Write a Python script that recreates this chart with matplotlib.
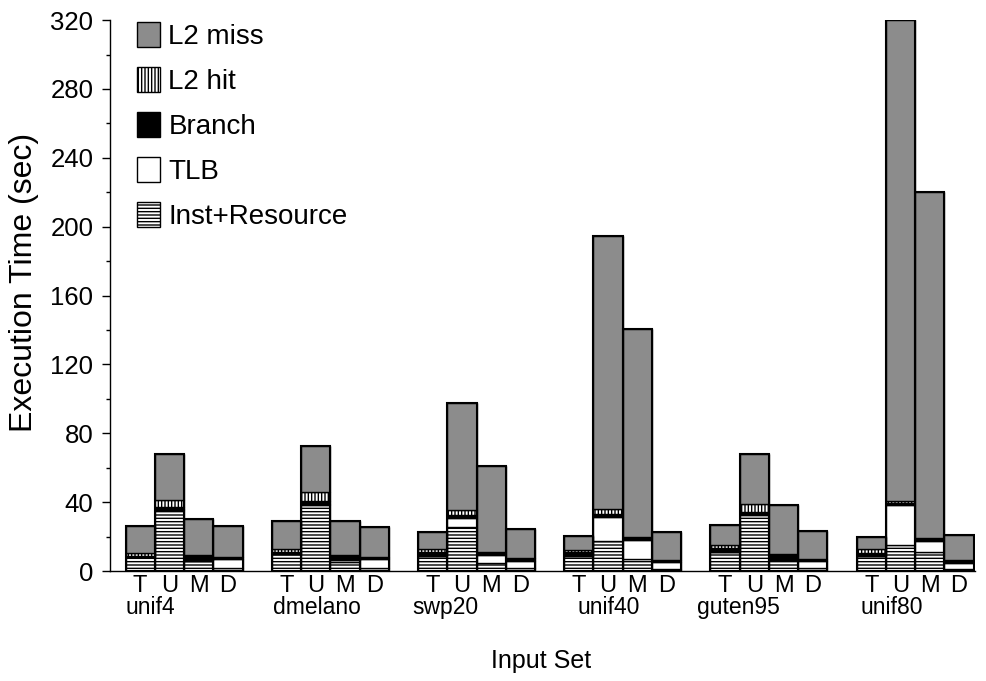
import numpy as np
import matplotlib.pyplot as plt
import matplotlib.transforms as mtransforms
from matplotlib.patches import Patch

plt.rcParams['font.family'] = ['Liberation Sans', 'DejaVu Sans']
plt.rcParams['hatch.linewidth'] = 1.0

# input sets, each run with four variants
groups = ['unif4', 'dmelano', 'swp20', 'unif40', 'guten95', 'unif80']
variants = ['T', 'U', 'M', 'D']

# execution time breakdown (sec), one list per component, order: group by group, T U M D
inst_resource = [8.0, 35.5, 6.0, 2.0,
                 9.7, 38.5, 5.5, 2.0,
                 8.5, 25.5, 4.7, 2.0,
                 8.7, 17.3, 6.8, 1.3,
                 11.0, 32.5, 6.5, 2.0,
                 8.7, 15.0, 10.8, 1.0]
tlb = [0.3, 0.3, 0.5, 5.0,
       0.3, 0.3, 0.8, 4.8,
       0.3, 5.3, 4.8, 4.0,
       0.3, 14.2, 11.2, 3.7,
       0.2, 0.5, 0.7, 3.6,
       0.2, 23.5, 6.6, 3.8]
branch = [0.7, 1.2, 2.3, 1.0,
          1.0, 1.6, 2.5, 1.0,
          2.5, 1.5, 1.5, 1.3,
          2.0, 1.5, 1.5, 1.3,
          2.3, 1.5, 2.5, 1.3,
          1.7, 0.8, 1.7, 1.2]
l2_hit = [1.5, 4.5, 0.7, 0.2,
          1.5, 5.5, 0.5, 0.2,
          1.2, 3.3, 0.3, 0.2,
          1.2, 2.8, 0.2, 0.2,
          1.8, 4.5, 0.3, 0.2,
          2.0, 1.5, 0.2, 0.2]
l2_miss = [15.5, 26.5, 20.5, 18.0,
           16.7, 26.9, 19.7, 17.5,
           10.3, 61.8, 49.9, 16.7,
           8.1, 158.7, 120.8, 16.3,
           11.2, 29.0, 28.5, 16.3,
           7.4, 279.2, 200.7, 14.7]

# where each group name sits, relative to its first bar
group_label_offset = [0.34, 1.05, 0.43, 1.03, 0.44, 0.71]

fig = plt.figure(figsize=(9.87, 6.81), dpi=100)
ax = fig.add_axes([0.1115, 0.1615, 0.8765, 0.809])

x = np.array([g * 5 + i for g in range(len(groups)) for i in range(len(variants))], dtype=float)

# stacked from the bottom: style for each component
layers = [
    ('Inst+Resource', inst_resource, dict(color='white', hatch='-----')),
    ('TLB', tlb, dict(color='white', hatch=None)),
    ('Branch', branch, dict(color='black', hatch=None)),
    ('L2 hit', l2_hit, dict(color='white', hatch='|||||')),
    ('L2 miss', l2_miss, dict(color='#8c8c8c', hatch=None)),
]

bottom = np.zeros(len(x))
handles = []
for name, vals, st in layers:
    vals = np.array(vals)
    ax.bar(x, vals, width=1.0, bottom=bottom, color=st['color'], hatch=st['hatch'],
           edgecolor='black', linewidth=1.0)
    bottom += vals
    handles.append(Patch(facecolor=st['color'], hatch=st['hatch'], edgecolor='black',
                         linewidth=1.0, label=name))

# outline each whole bar
ax.bar(x, bottom, width=1.0, fill=False, edgecolor='black', linewidth=1.5)

ax.set_xlim(-1.03, 28.55)
ax.set_ylim(0, 320)
ax.set_yticks(np.arange(0, 321, 40))
ax.set_yticks(np.arange(20, 321, 40), minor=True)
ax.tick_params(axis='y', which='major', length=6, width=1, labelsize=18.5, pad=6)
ax.tick_params(axis='y', which='minor', length=3, width=1)
ax.set_xticks(x)
ax.set_xticklabels(variants * len(groups))
ax.tick_params(axis='x', length=0, labelsize=17, pad=3)

for s in ['top', 'right']:
    ax.spines[s].set_visible(False)
ax.spines['left'].set_linewidth(1)
ax.spines['bottom'].set_linewidth(1)

trans = mtransforms.blended_transform_factory(ax.transData, ax.transAxes)
for g, name in enumerate(groups):
    ax.text(g * 5 + group_label_offset[g], -0.078, name, transform=trans,
            ha='center', va='baseline', fontsize=16.5)

ax.set_ylabel('Execution Time (sec)', fontsize=23)
ax.yaxis.set_label_coords(-0.082, 0.524)
ax.set_xlabel('Input Set', fontsize=18)
ax.xaxis.set_label_coords(0.498, -0.142)

ax.legend(handles[::-1], [h.get_label() for h in handles[::-1]], loc='upper left',
          bbox_to_anchor=(0.031, 0.997), frameon=False, fontsize=20,
          borderpad=0, borderaxespad=0,
          handlelength=0.83, handleheight=1.0, labelspacing=0.62, handletextpad=0.3)

fig.savefig('out.png', dpi=100)
